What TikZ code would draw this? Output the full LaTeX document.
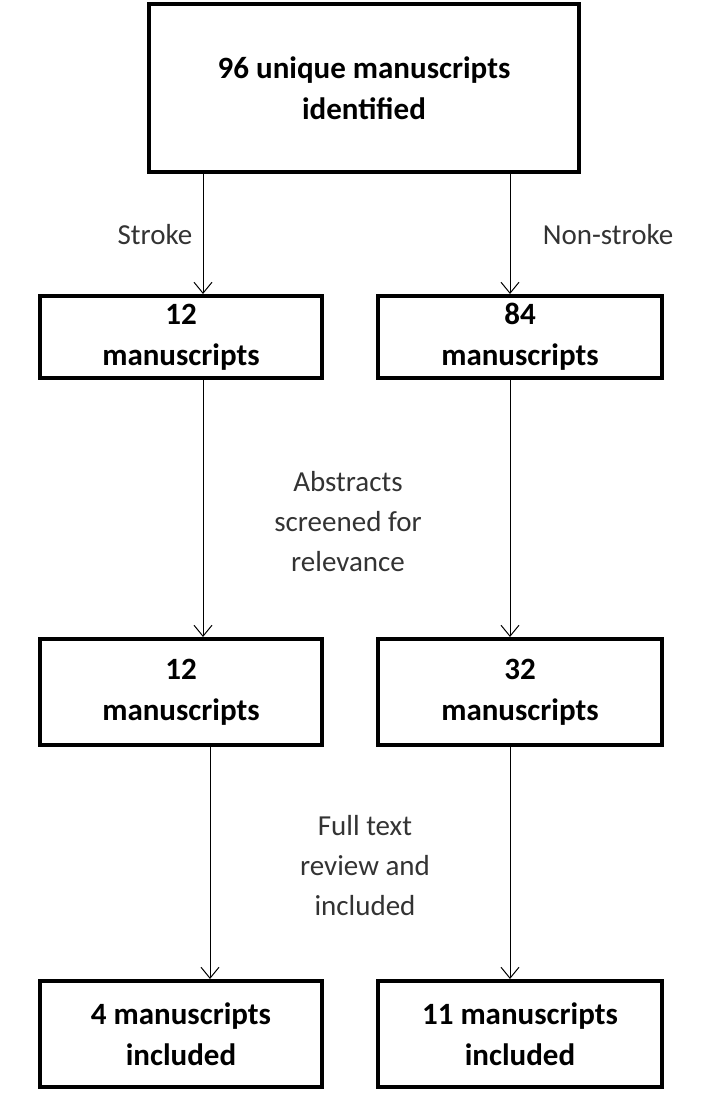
\documentclass[tikz,border=0pt]{standalone}
\usepackage{fontspec}
\setmainfont{Carlito}
\usetikzlibrary{positioning,arrows.meta}
\tikzset{
  box/.style={draw, line width=4pt, align=center, font=\fontsize{31}{41}\selectfont\bfseries, inner sep=0pt},
  flow/.style={-{Straight Barb[length=11pt,width=18pt]}, line width=1pt},
  lbl/.style={align=center, font=\fontsize{29}{40}\selectfont, text=black!80}
}
\begin{document}
\begin{tikzpicture}[x=1pt,y=-1pt]
\useasboundingbox (0,0) rectangle (720,1110);
% boxes
\node[box, minimum width=430, minimum height=168] (top) at (364,88) {96 unique manuscripts\\identified};
\node[box, minimum width=282, minimum height=82] (s1) at (181,337) {12\\manuscripts};
\node[box, minimum width=284, minimum height=82] (n1) at (520,337) {84\\manuscripts};
\node[box, minimum width=282, minimum height=106] (s2) at (181,692) {12\\manuscripts};
\node[box, minimum width=284, minimum height=106] (n2) at (520,692) {32\\manuscripts};
\node[box, minimum width=282, minimum height=106] (s3) at (181,1034) {4 manuscripts\\included};
\node[box, minimum width=284, minimum height=106] (n3) at (520,1034) {11 manuscripts\\included};
% connectors
\coordinate (ta) at (203,172);
\coordinate (tb) at (510,172);
\draw[flow] (ta) -- (ta |- s1.north);
\draw[flow] (tb) -- (tb |- n1.north);
\draw[flow] (ta |- s1.south) -- (ta |- s2.north);
\draw[flow] (tb |- n1.south) -- (tb |- n2.north);
\coordinate (sc) at (210,745);
\draw[flow] (sc) -- (sc |- s3.north);
\draw[flow] (tb |- n2.south) -- (tb |- n3.north);
% labels
\node[lbl] (lstroke) at (155,235) {Stroke};
\node[lbl] (lnon) at (608,235) {Non-stroke};
\node[lbl] (labs) at (348,522) {Abstracts\\screened for\\relevance};
\node[lbl] (lfull) at (365,866) {Full text\\review and\\included};
\end{tikzpicture}
\end{document}
